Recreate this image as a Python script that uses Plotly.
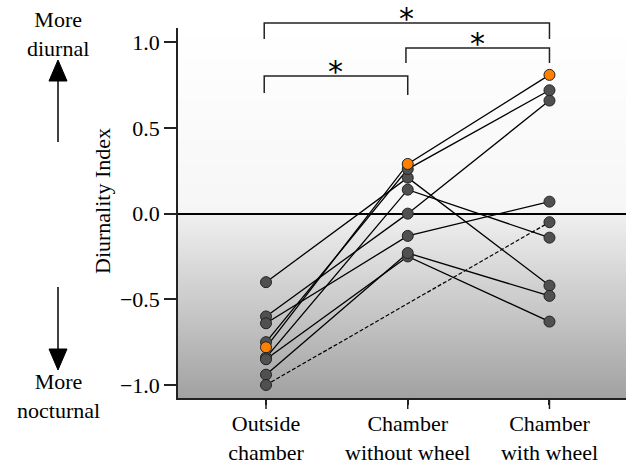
import plotly.graph_objects as go

# ---- data ----
categories = ["Outside<br>chamber", "Chamber<br>without wheel", "Chamber<br>with wheel"]
outside = [-0.40, -0.60, -0.64, -0.75, -0.78, -0.84, -0.85, -0.94, -1.00]
without_wheel = [0.21, 0.00, -0.13, 0.26, 0.29, 0.14, -0.25, -0.23, None]
with_wheel = [-0.42, 0.66, 0.07, 0.72, 0.81, -0.14, -0.63, -0.48, -0.05]
highlight = [False, False, False, False, True, False, False, False, False]
y_ticks = [-1.0, -0.5, 0.0, 0.5, 1.0]
sig_pairs = [(0, 1), (1, 2), (0, 2)]

# ---- layout geometry ----
W, H = 626, 465
ML, MR, MT, MB = 178, 0, 28, 67
XR = [-0.621, 2.54]
YR = [-1.076, 1.0835]
PW, PH = W - ML - MR, H - MT - MB
FONT = "Liberation Serif, Times New Roman, serif"


def px_x(p):
    return (p - ML) / PW


def px_y(p):
    return (H - MB - p) / PH


def data_x(v):
    return (v - XR[0]) / (XR[1] - XR[0])


fig = go.Figure()

# connecting lines
xs = [0, 1, 2]
for i in range(len(outside)):
    if without_wheel[i] is None:
        fig.add_trace(go.Scatter(x=[0, 2], y=[outside[i], with_wheel[i]], mode="lines",
                                 line=dict(color="black", width=1.2, dash="4px,2px"),
                                 showlegend=False, hoverinfo="skip"))
    else:
        fig.add_trace(go.Scatter(x=xs, y=[outside[i], without_wheel[i], with_wheel[i]],
                                 mode="lines", line=dict(color="black", width=1.3),
                                 showlegend=False, hoverinfo="skip"))

# markers (grey first, highlight on top)
for hl in (False, True):
    mx, my = [], []
    for i in range(len(outside)):
        if highlight[i] != hl:
            continue
        for x, v in zip(xs, [outside[i], without_wheel[i], with_wheel[i]]):
            if v is not None:
                mx.append(x)
                my.append(v)
    fig.add_trace(go.Scatter(x=mx, y=my, mode="markers",
                             marker=dict(size=11, color="#ff8000" if hl else "#505050",
                                         line=dict(color="#222222", width=1)),
                             showlegend=False))

shapes = []
# background gradient
N = 160
for k in range(N):
    y0 = YR[0] + (YR[1] - YR[0]) * k / N
    y1 = YR[0] + (YR[1] - YR[0]) * (k + 1) / N
    v = (y0 + y1) / 2
    if v >= 0:
        g = 246 + (255 - 246) * (v / YR[1])
    else:
        g = 240 - (240 - 162) * (v / YR[0])
    g = int(round(g))
    shapes.append(dict(type="rect", xref="paper", yref="paper", x0=0, x1=1,
                       y0=k / N, y1=(k + 1) / N + 0.002, fillcolor=f"rgb({g},{g},{g})",
                       line=dict(width=0), layer="below"))

# full-length x ticks (labels sit closer via a short axis tick)
for x in xs:
    shapes.append(dict(type="line", xref="paper", yref="paper", x0=data_x(x), x1=data_x(x),
                       y0=0, y1=px_y(409), line=dict(color="#222222", width=1.5)))

# significance brackets
bracket_px = {(0, 1): (76, 93, 95), (1, 2): (48, 63, 63), (0, 2): (23, 39, 39)}
annotations = []
for (a, b) in sig_pairs:
    ytop, yl, yr = bracket_px[(a, b)]
    xa, xb = data_x(a) - 0.004, data_x(b)
    shapes.append(dict(type="path", xref="paper", yref="paper",
                       path=f"M {xa} {px_y(yl)} L {xa} {px_y(ytop)} L {xb} {px_y(ytop)} L {xb} {px_y(yr)}",
                       line=dict(color="#222222", width=1.5)))
    annotations.append(dict(text="*", xref="paper", yref="paper", x=(xa + xb) / 2,
                            y=px_y(ytop + 15), xanchor="center", yanchor="bottom",
                            showarrow=False, font=dict(family="DejaVu Sans", size=30, color="black")))

# left arrows
ax = px_x(58)
shapes.append(dict(type="line", xref="paper", yref="paper", x0=ax, x1=ax,
                   y0=px_y(142), y1=px_y(80), line=dict(color="black", width=1.5)))
shapes.append(dict(type="path", xref="paper", yref="paper",
                   path=f"M {px_x(49)} {px_y(81)} L {px_x(67)} {px_y(81)} L {px_x(58)} {px_y(60)} Z",
                   fillcolor="black", line=dict(color="black", width=1)))
shapes.append(dict(type="line", xref="paper", yref="paper", x0=ax, x1=ax,
                   y0=px_y(287), y1=px_y(350), line=dict(color="black", width=1.5)))
shapes.append(dict(type="path", xref="paper", yref="paper",
                   path=f"M {px_x(49)} {px_y(349)} L {px_x(67)} {px_y(349)} L {px_x(58)} {px_y(370)} Z",
                   fillcolor="black", line=dict(color="black", width=1)))

annotations += [
    dict(text="More<br>diurnal", xref="paper", yref="paper", x=px_x(58), y=px_y(34),
         xanchor="center", yanchor="middle", showarrow=False, font=dict(family=FONT, size=22, color="black")),
    dict(text="More<br>nocturnal", xref="paper", yref="paper", x=px_x(58), y=px_y(396),
         xanchor="center", yanchor="middle", showarrow=False, font=dict(family=FONT, size=22, color="black")),
    dict(text="Diurnality Index", xref="paper", yref="paper", x=px_x(102), y=px_y(201),
         xanchor="center", yanchor="middle", textangle=-90, showarrow=False,
         font=dict(family=FONT, size=22, color="black")),
]

fig.update_layout(
    width=W, height=H, margin=dict(l=ML, r=MR, t=MT, b=MB, pad=0, autoexpand=False),
    paper_bgcolor="white", plot_bgcolor="white",
    font=dict(family=FONT, size=22, color="black"),
    shapes=shapes, annotations=annotations, showlegend=False,
    xaxis=dict(range=XR, tickvals=xs, ticktext=categories, automargin=False,
               showgrid=False, zeroline=False,
               showline=True, linecolor="#222222", linewidth=1.5, ticks="outside",
               ticklen=5, tickwidth=1.5, tickcolor="#222222"),
    yaxis=dict(range=YR, tickvals=y_ticks, tickformat=".1f", showgrid=False, automargin=False,
               zeroline=True, zerolinecolor="black", zerolinewidth=1.5,
               showline=True, linecolor="#222222", linewidth=1.5, ticks="outside",
               ticklen=12, tickwidth=1.5, tickcolor="#222222"),
)

fig.write_html("out.html")
